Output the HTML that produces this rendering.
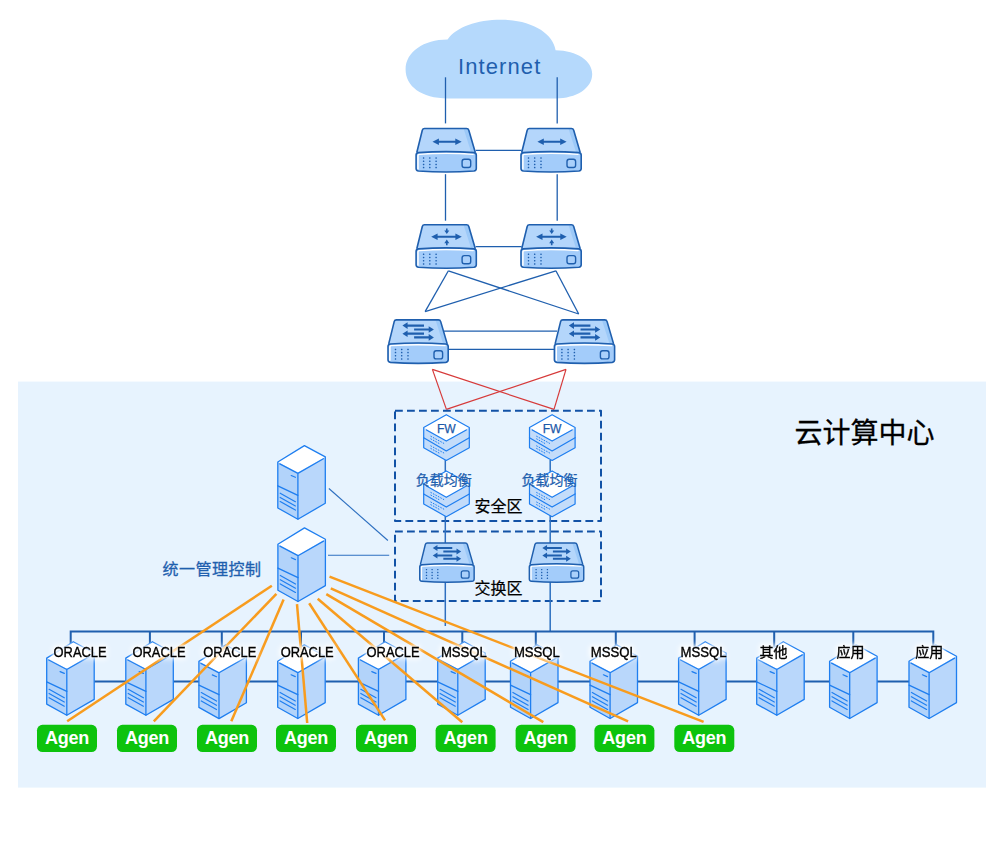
<!DOCTYPE html>
<html lang="zh-CN">
<head>
<meta charset="utf-8">
<title>云计算中心 网络拓扑</title>
<style>
html,body{margin:0;padding:0;background:#fff;}
#stage{position:relative;width:1000px;height:851px;overflow:hidden;background:#fff;}
svg{position:absolute;left:0;top:0;display:block;}
text{font-family:'Liberation Sans','Noto Sans CJK SC',sans-serif;text-anchor:middle;}
.ag{font-size:18px;font-weight:bold;fill:#fff;letter-spacing:-0.2px;}
.lb{font-size:14px;fill:#000;stroke:#000;stroke-width:0.35px;filter:drop-shadow(0 0 1.5px #fff) drop-shadow(0 0 2px #fff) drop-shadow(0 0 3px rgba(255,255,255,.85));}
.inet{font-size:22px;fill:#1f5fae;letter-spacing:1.1px;}
.fw{font-size:13.6px;fill:#1c58a8;stroke:#1c58a8;stroke-width:0.25px;}
.lbal{font-size:14px;fill:#1f5fae;stroke:#1f5fae;stroke-width:0.25px;}
.zone{font-size:16px;fill:#000;stroke:#000;stroke-width:0.2px;}
.mgmt{font-size:16px;fill:#1f5fae;stroke:#1f5fae;stroke-width:0.3px;letter-spacing:0.5px;}
.title{font-size:28px;fill:#000;stroke:#000;stroke-width:0.3px;}
</style>
</head>
<body>
<div id="stage">
<svg width="1000" height="851" viewBox="0 0 1000 851">
<defs>

<g id="devbase">
  <path d="M9.2 0.8 H51.2 Q53 0.8 53.5 2.5 L60.2 25.2 H1.4 L7 2.5 Q7.5 0.8 9.2 0.8 Z" fill="#b4d6fb" stroke="none"/>
  <path d="M48.4 1.2 H51.2 Q52.7 1.2 53.2 2.7 L59.6 24.6 L55.8 24.2 Z" fill="#9cc9f8" stroke="none"/>
  <path d="M3.2 24.9 Q30.8 22.9 58.6 24.9 Q61 25.2 61 27.4 V40.7 Q61 43 58.6 43.3 Q30.8 45.3 3.2 43.3 Q0.8 43 0.8 40.7 V27.4 Q0.8 25.2 3.2 24.9 Z" fill="#a3ccfa" stroke="none"/>
  <path d="M2.7 41.2 V28 Q2.7 26.6 4.2 26.5 Q30.8 24.6 57.8 26.5" fill="none" stroke="#fff" stroke-width="1.5" stroke-linecap="round"/>
  <path d="M60 24.8 L53.5 2.5 Q53 0.8 51.2 0.8 H9.2 Q7.5 0.8 7 2.5 L1.5 24.8" fill="none" stroke="#1f5fae" stroke-width="1.6" stroke-linejoin="round"/>
  <path d="M3.2 24.9 Q30.8 22.9 58.6 24.9 Q61 25.2 61 27.4 V40.7 Q61 43 58.6 43.3 Q30.8 45.3 3.2 43.3 Q0.8 43 0.8 40.7 V27.4 Q0.8 25.2 3.2 24.9 Z" fill="none" stroke="#1f5fae" stroke-width="1.6" stroke-linejoin="round"/>
  <g fill="#1f5fae">
    <rect x="7.55" y="29.55" width="1.5" height="1.5" rx="0.45"/><rect x="7.55" y="32.75" width="1.5" height="1.5" rx="0.45"/><rect x="7.55" y="35.95" width="1.5" height="1.5" rx="0.45"/><rect x="7.55" y="39.15" width="1.5" height="1.5" rx="0.45"/><rect x="13.75" y="29.55" width="1.5" height="1.5" rx="0.45"/><rect x="13.75" y="32.75" width="1.5" height="1.5" rx="0.45"/><rect x="13.75" y="35.95" width="1.5" height="1.5" rx="0.45"/><rect x="13.75" y="39.15" width="1.5" height="1.5" rx="0.45"/><rect x="20.05" y="29.55" width="1.5" height="1.5" rx="0.45"/><rect x="20.05" y="32.75" width="1.5" height="1.5" rx="0.45"/><rect x="20.05" y="35.95" width="1.5" height="1.5" rx="0.45"/><rect x="20.05" y="39.15" width="1.5" height="1.5" rx="0.45"/>
  </g>
  <rect x="46.8" y="31.6" width="8.6" height="8.2" rx="2.2" fill="#aad0fb" stroke="#1f5fae" stroke-width="1.4"/>
</g><g id="devA"><use href="#devbase"/><path d="M17.2 14 L23.6 10.8 V13.0 H40.0 V10.8 L46.4 14 L40.0 17.2 V15.0 H23.6 V17.2 Z" fill="#1f5fae"/></g><g id="devB"><use href="#devbase"/><path d="M15.9 12.8 L22.3 9.600000000000001 V11.8 H40.1 V9.600000000000001 L46.5 12.8 L40.1 16.0 V13.8 H22.3 V16.0 Z" fill="#1f5fae"/><path d="M30.7 4.4 H32.3 V6.4 H34 L31.5 10.1 L29 6.4 H30.7 Z M30.7 21.2 H32.3 V19.2 H34 L31.5 15.5 L29 19.2 H30.7 Z" fill="#1f5fae"/></g><g id="devC"><use href="#devbase"/><path d="M36.8 5.4 H20.400000000000002 V3.2 L15.2 6.5 L20.400000000000002 9.8 V7.6 H36.8 ZM26.9 9.3 H41.50000000000001 V7.1000000000000005 L46.7 10.4 L41.50000000000001 13.7 V11.5 H26.9 ZM36.8 13.5 H20.400000000000002 V11.3 L15.2 14.6 L20.400000000000002 17.9 V15.7 H36.8 ZM26.9 17.2 H41.50000000000001 V15.0 L46.7 18.3 L41.50000000000001 21.6 V19.400000000000002 H26.9 Z" fill="#1f5fae"/></g>
<g id="srv" stroke-linejoin="round" stroke-linecap="round">
  <path d="M0.6 17 L27.2 0.6 L48.1 11.9 V58.3 L20.7 74.2 L0.6 63 Z" fill="#fff" stroke="none"/>
  <path d="M0.6 17 L20.7 27.6 V74.2 L0.6 63 Z" fill="#b2d3fa"/>
  <path d="M20.7 27.6 L48.1 11.9 V58.3 L20.7 74.2 Z" fill="#b9d7fb"/>
  <path d="M0.6 17 L27.2 0.6 L48.1 11.9 V58.3 L20.7 74.2 L0.6 63 Z" fill="none" stroke="#1e7ef0" stroke-width="1.3"/>
  <path d="M2.6 18.9 L20.7 28.4 L46.2 13.8 M20.7 28.4 V74" fill="none" stroke="#1e7ef0" stroke-width="1.3"/>
  <path d="M0.6 40.8 L20.7 50.3" fill="none" stroke="#1e7ef0" stroke-width="1.3"/>
  <path d="M14 30.5 L18.2 32.3" fill="none" stroke="#1e7ef0" stroke-width="1.2"/>
  <path d="M3 48.2 L18.2 56.7 M3 52.4 L18.2 60.9 M3 56.6 L18.2 65.1" fill="none" stroke="#1e7ef0" stroke-width="1.2"/>
</g>
<g id="iso" stroke-linejoin="round" stroke-linecap="round">
  <path d="M0.6 13.4 L23.2 0.6 L46.2 13.4 V33.6 L23.2 46.4 L0.6 33.6 Z" fill="#c3dcfa" stroke="none"/>
  <path d="M0.6 13.4 L23.2 0.6 L46.2 13.4 L23.2 27 Z" fill="#fff" stroke="none"/>
  <path d="M0.6 13.4 L23.2 0.6 L46.2 13.4 V33.6 L23.2 46.4 L0.6 33.6 Z" fill="none" stroke="#1e7ef0" stroke-width="1.2"/>
  <path d="M3.4 15.8 L23.2 27 L43.2 15.8 M0.6 23.6 L23.2 36.8 L46.2 23.6" fill="none" stroke="#1e7ef0" stroke-width="1.2"/>
  <path d="M7.4 22 L21 29.4 M7.4 24.6 L17 29.9 M7.4 31.6 L21 39 M7.4 34.2 L17 39.5" fill="none" stroke="#1e7ef0" stroke-width="1" stroke-dasharray="1.6 1.2" stroke-linecap="butt"/>
</g>
</defs>
<rect x="18" y="381.6" width="968" height="406" fill="#e7f3fe"/>
<path d="M448 98.4 C421 98.4 405.6 86 405.6 69.5 C405.6 52 424 39.5 447.6 39.6 C456 27 477 19.8 501 19.8 C531 19.8 553 33 555.6 50.2 C577 50.6 592.2 60.5 592.2 74 C592.2 88.5 576 98.4 556 98.4 Z" fill="#b5d9fc"/>
<path d="M445.5 77.3 L445.5 123.4" stroke="#1f5fae" stroke-width="1.3" fill="none" />
<path d="M445.5 174.2 L445.5 220.7" stroke="#1f5fae" stroke-width="1.3" fill="none" />
<path d="M557.2 77.3 L557.2 123.4" stroke="#1f5fae" stroke-width="1.3" fill="none" />
<path d="M557.2 174.2 L557.2 220.7" stroke="#1f5fae" stroke-width="1.3" fill="none" />
<path d="M475.7 150.3 L521.6 150.3" stroke="#1f5fae" stroke-width="1.3" fill="none" />
<path d="M475.7 246.6 L521.6 246.6" stroke="#1f5fae" stroke-width="1.3" fill="none" />
<path d="M448.4 270.8 L425.1 311.6" stroke="#1f5fae" stroke-width="1.3" fill="none" />
<path d="M448.4 270.8 L578.7 314" stroke="#1f5fae" stroke-width="1.3" fill="none" />
<path d="M555.9 270.8 L425.1 311.6" stroke="#1f5fae" stroke-width="1.3" fill="none" />
<path d="M555.9 270.8 L578.7 314" stroke="#1f5fae" stroke-width="1.3" fill="none" />
<path d="M444 331.1 L557 331.1" stroke="#1f5fae" stroke-width="1.3" fill="none" />
<path d="M448 349.3 L554 349.3" stroke="#1f5fae" stroke-width="1.3" fill="none" />
<path d="M432.4 369.4 L446.4 409.4" stroke="#d63a3a" stroke-width="1.2" fill="none" />
<path d="M432.4 369.4 L554 409.4" stroke="#d63a3a" stroke-width="1.2" fill="none" />
<path d="M566 369.4 L446.4 409.4" stroke="#d63a3a" stroke-width="1.2" fill="none" />
<path d="M566 369.4 L554 409.4" stroke="#d63a3a" stroke-width="1.2" fill="none" />
<use href="#devA" x="415.3" y="127.7"/>
<use href="#devA" x="520.2" y="127.7"/>
<use href="#devB" x="415.3" y="224"/>
<use href="#devB" x="520.2" y="224"/>
<use href="#devC" x="387.2" y="319.1"/>
<use href="#devC" x="553.6" y="319.1"/>
<rect x="395" y="410.8" width="206" height="110.2" fill="none" stroke-linejoin="round" stroke="#1252a6" stroke-width="2" stroke-dasharray="7.8 4.2"/>
<rect x="395" y="531.4" width="206" height="69.6" fill="none" stroke-linejoin="round" stroke="#1252a6" stroke-width="2" stroke-dasharray="7.8 4.2"/>
<path d="M445.3 460 L445.3 626" stroke="#2d6fc0" stroke-width="1.5" fill="none" />
<path d="M550.2 460 L550.2 631" stroke="#2d6fc0" stroke-width="1.5" fill="none" />
<use href="#iso" x="423.1" y="414.1"/>
<use href="#iso" x="528.9" y="414.1"/>
<use href="#iso" x="423.1" y="470.3"/>
<use href="#iso" x="528.9" y="470.3"/>
<use href="#devC" transform="translate(419 542.2) scale(0.904)"/>
<use href="#devC" transform="translate(528.6 542.2) scale(0.904)"/>
<path d="M328.9 488.5 L387.9 540.5" stroke="#2d6fc0" stroke-width="1.1" fill="none" />
<path d="M328 555.3 L389.2 555.3" stroke="#2d6fc0" stroke-width="1.1" fill="none" />
<path d="M70.7 650 V631.4 H933.3 V650 M149.9 631.4 V650 M221.8 631.4 V650 M301 631.4 V650 M384 631.4 V650 M462.3 631.4 V650 M535.8 631.4 V650 M615.8 631.4 V650 M694.6 631.4 V650 M774.2 631.4 V650 M853.3 631.4 V650 " fill="none" stroke="#1f5fae" stroke-width="2"/>
<path d="M86.1 681.6 H913.4" fill="none" stroke="#1f5fae" stroke-width="2"/>
<use href="#srv" x="277.2" y="445"/>
<use href="#srv" x="277.3" y="527.3"/>
<use href="#srv" x="46.1" y="641.1"/>
<use href="#srv" x="125.2" y="641.1"/>
<use href="#srv" x="198.3" y="644.4"/>
<use href="#srv" x="277.1" y="644.3"/>
<use href="#srv" x="357.8" y="641.1"/>
<use href="#srv" x="437.1" y="641.1"/>
<use href="#srv" x="509.9" y="644.3"/>
<use href="#srv" x="589.4" y="644.3"/>
<use href="#srv" x="678" y="641.1"/>
<use href="#srv" x="756.1" y="641.1"/>
<use href="#srv" x="829" y="644.3"/>
<use href="#srv" x="908.4" y="644.3"/>
<path d="M271.8 585.7 L67.2 721.3" stroke="#f89c1e" stroke-width="2.5" fill="none" />
<path d="M276.4 593.8 L153.8 721.3" stroke="#f89c1e" stroke-width="2.5" fill="none" />
<path d="M283.6 599.6 L231.3 721.3" stroke="#f89c1e" stroke-width="2.5" fill="none" />
<path d="M297 604.2 L307.2 723" stroke="#f89c1e" stroke-width="2.5" fill="none" />
<path d="M309.2 603.2 L385.1 720.4" stroke="#f89c1e" stroke-width="2.5" fill="none" />
<path d="M317.7 598.7 L462.3 722.2" stroke="#f89c1e" stroke-width="2.5" fill="none" />
<path d="M326.3 594.2 L543.3 722.2" stroke="#f89c1e" stroke-width="2.5" fill="none" />
<path d="M330.8 588.4 L628.1 721.3" stroke="#f89c1e" stroke-width="2.5" fill="none" />
<path d="M329.5 576.7 L703.6 721.9" stroke="#f89c1e" stroke-width="2.5" fill="none" />
<rect x="37" y="724.8" width="60" height="27.2" rx="5.5" fill="#0dc30d"/>
<text x="67" y="743.6" class="ag">Agen</text>
<rect x="117" y="724.8" width="60" height="27.2" rx="5.5" fill="#0dc30d"/>
<text x="147" y="743.6" class="ag">Agen</text>
<rect x="197" y="724.8" width="60" height="27.2" rx="5.5" fill="#0dc30d"/>
<text x="227" y="743.6" class="ag">Agen</text>
<rect x="276" y="724.8" width="60" height="27.2" rx="5.5" fill="#0dc30d"/>
<text x="306" y="743.6" class="ag">Agen</text>
<rect x="356" y="724.8" width="60" height="27.2" rx="5.5" fill="#0dc30d"/>
<text x="386" y="743.6" class="ag">Agen</text>
<rect x="435.6" y="724.8" width="60" height="27.2" rx="5.5" fill="#0dc30d"/>
<text x="465.6" y="743.6" class="ag">Agen</text>
<rect x="515.6" y="724.8" width="60" height="27.2" rx="5.5" fill="#0dc30d"/>
<text x="545.6" y="743.6" class="ag">Agen</text>
<rect x="594.4" y="724.8" width="60" height="27.2" rx="5.5" fill="#0dc30d"/>
<text x="624.4" y="743.6" class="ag">Agen</text>
<rect x="674.3" y="724.8" width="60" height="27.2" rx="5.5" fill="#0dc30d"/>
<text x="704.3" y="743.6" class="ag">Agen</text>
<text x="80.1" y="657.2" class="lb" textLength="53" lengthAdjust="spacingAndGlyphs">ORACLE</text>
<text x="159" y="657.2" class="lb" textLength="53" lengthAdjust="spacingAndGlyphs">ORACLE</text>
<text x="229.8" y="657.2" class="lb" textLength="53" lengthAdjust="spacingAndGlyphs">ORACLE</text>
<text x="307.2" y="657.2" class="lb" textLength="53" lengthAdjust="spacingAndGlyphs">ORACLE</text>
<text x="393.1" y="657.2" class="lb" textLength="53" lengthAdjust="spacingAndGlyphs">ORACLE</text>
<text x="463.9" y="657.2" class="lb" textLength="46" lengthAdjust="spacingAndGlyphs">MSSQL</text>
<text x="536.9" y="657.2" class="lb" textLength="46" lengthAdjust="spacingAndGlyphs">MSSQL</text>
<text x="613.7" y="657.2" class="lb" textLength="46" lengthAdjust="spacingAndGlyphs">MSSQL</text>
<text x="703.6" y="657.2" class="lb" textLength="46" lengthAdjust="spacingAndGlyphs">MSSQL</text>
<text x="773.4" y="657.2" class="lb">其他</text>
<text x="850.5" y="657.2" class="lb">应用</text>
<text x="929.2" y="657.2" class="lb">应用</text>
<text x="499.7" y="74.4" class="inet">Internet</text>
<text x="446.3" y="432.6" class="fw" textLength="18.8" lengthAdjust="spacingAndGlyphs">FW</text>
<text x="552.1" y="432.6" class="fw" textLength="18.8" lengthAdjust="spacingAndGlyphs">FW</text>
<text x="443.7" y="485.2" class="lbal">负载均衡</text>
<text x="549.5" y="485.2" class="lbal">负载均衡</text>
<text x="498.5" y="512.4" class="zone">安全区</text>
<text x="498.5" y="594.2" class="zone">交换区</text>
<text x="212" y="575.4" class="mgmt">统一管理控制</text>
<text x="864.5" y="443.2" class="title">云计算中心</text>
</svg>
</div>
</body>
</html>
